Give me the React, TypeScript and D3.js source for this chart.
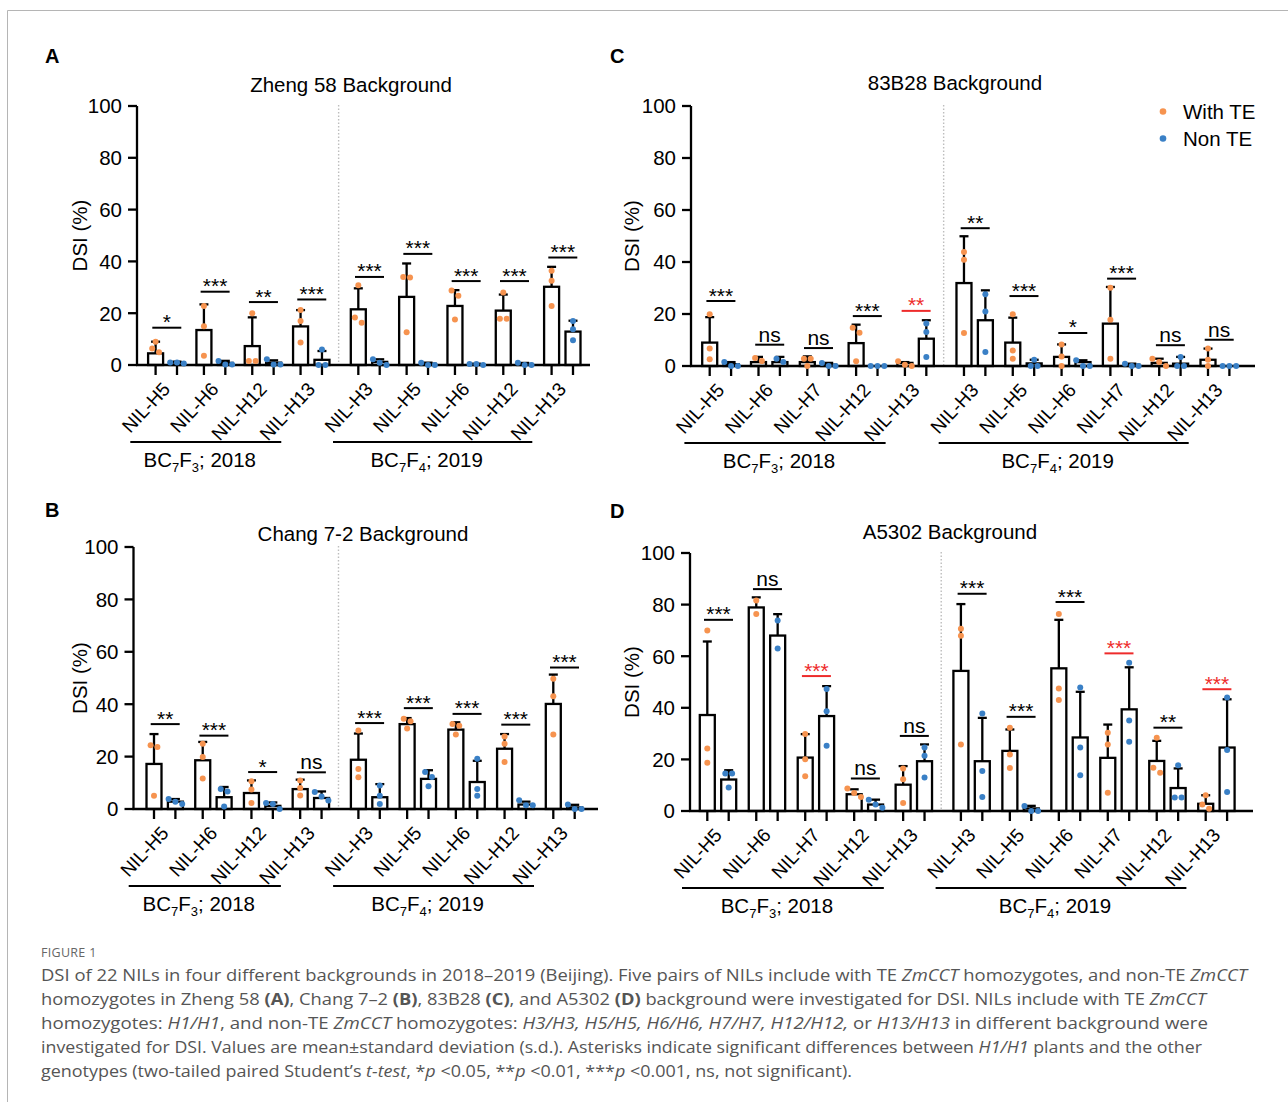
import * as d3 from "d3";
import React from "react";

// ---- categories ----
const labelsAB = ["NIL-H5", "NIL-H6", "NIL-H12", "NIL-H13", "NIL-H3", "NIL-H5", "NIL-H6", "NIL-H12", "NIL-H13"];
const labelsCD = ["NIL-H5", "NIL-H6", "NIL-H7", "NIL-H12", "NIL-H13", "NIL-H3", "NIL-H5", "NIL-H6", "NIL-H7", "NIL-H12", "NIL-H13"];
const groupSizesAB = [4, 5];
const groupSizesCD = [5, 6];
const groupNames = [["BC", "7", "F", "3", "; 2018"], ["BC", "7", "F", "4", "; 2019"]];
const yTicks = [0, 20, 40, 60, 80, 100];

// ---- panel A: Zheng 58 ----
const aWithMean = [4.5, 13.5, 7.3, 14.9, 21.5, 26.3, 22.8, 21.0, 30.2];
const aWithSd = [4.5, 9.9, 11.1, 6.3, 8.1, 12.9, 6.1, 6.2, 7.7];
const aNonMean = [1.0, 0.8, 0.9, 2.0, 1.2, 0.5, 0.3, 0.4, 12.9];
const aNonSd = [0.3, 0.8, 0.9, 3.4, 1.0, 0.4, 0.2, 0.4, 4.2];
const aWithPts = [[9.0, 6.4, 4.9], [22.8, 15.0, 3.6], [20.0, 1.5, 1.5], [21.2, 17.0, 8.7], [30.8, 18.3, 16.3], [34.0, 33.8, 12.6], [28.8, 26.7, 17.6], [28.0, 17.9, 17.9], [36.4, 32.5, 22.8]];
const aNonPts = [[0.6, 1.0, 1.0], [0.2, 1.5, 0.2], [0.2, 2.2, 0.2], [0.0, 6.0, 0.0], [0.0, 2.2, 0.9], [0.0, 0.9, 0.0], [0.0, 0.4, 0.4], [0.0, 0.9, 0.0], [17.0, 13.8, 9.6]];
const aSigY = [14.4, 28.3, 24.3, 25.3, 34.0, 42.9, 32.4, 32.4, 41.5];
const aSig = ["*", "***", "**", "***", "***", "***", "***", "***", "***"];
const aSigRed: number[] = [];

// ---- panel B: Chang 7-2 ----
const bWithMean = [17.2, 18.6, 6.1, 7.6, 18.8, 32.4, 30.3, 23.0, 40.1];
const bWithSd = [11.4, 7.0, 4.8, 3.6, 10.0, 2.3, 2.8, 5.6, 11.2];
const bNonMean = [2.8, 4.5, 1.2, 4.2, 4.5, 11.5, 10.3, 1.7, 0.6];
const bNonSd = [1.0, 3.9, 1.3, 2.5, 5.0, 3.3, 8.1, 1.1, 1.0];
const bWithPts = [[24.3, 23.7, 5.1], [24.9, 19.8, 11.6], [10.6, 7.4, 2.3], [10.9, 8.0, 5.2], [30.0, 15.3, 12.1], [34.4, 33.5, 30.7], [32.4, 31.8, 28.4], [27.7, 24.9, 17.9], [49.7, 43.0, 28.4]];
const bNonPts = [[1.9, 3.8, 2.8], [7.6, 6.7, 1.0], [2.3, 0.0, 1.9], [3.2, 6.5, 4.8], [9.0, 5.1, 1.9], [14.1, 12.2, 8.7], [19.2, 7.6, 5.1], [1.4, 3.3, 1.4], [0.0, 1.7, 0.0]];
const bSigY = [32.4, 28.0, 14.1, 14.0, 32.8, 38.5, 36.3, 32.2, 54.0];
const bSig = ["**", "***", "*", "ns", "***", "***", "***", "***", "***"];
const bSigRed: number[] = [];

// ---- panel C: 83B28 ----
const cWithMean = [9.0, 1.5, 1.5, 8.8, 1.2, 31.9, 9.0, 3.5, 16.3, 1.2, 2.4];
const cWithSd = [9.8, 2.0, 2.2, 7.1, 0.3, 18.0, 9.6, 4.8, 14.1, 1.6, 4.3];
const cNonMean = [0.7, 1.5, 0.5, 0.0, 10.5, 17.6, 1.0, 1.5, 0.5, 0.9, 0.0];
const cNonSd = [0.8, 2.0, 0.7, 0.0, 7.1, 11.5, 1.4, 0.7, 0.4, 2.6, 0.0];
const cWithPts = [[19.9, 6.7, 2.6], [1.9, 3.1], [2.8, 2.8, 0.0], [14.7, 12.8, 1.8], [0.0, 1.8, 0.5], [43.8, 40.9, 12.7], [19.9, 6.0, 2.8], [8.3, 3.7, 0.0], [30.1, 17.8, 2.8], [2.8, 1.5, 0.0], [6.7, 2.4, 0.0]];
const cNonPts = [[0.0, 1.5, 0.0], [1.5, 2.8], [0.0, 1.2, 0.0], [0.0, 0.0, 0.0], [16.3, 13.1, 3.5], [27.6, 21.0, 5.4], [0.0, 2.4, 0.0], [0.0, 2.2, 0.0], [0.0, 0.9, 0.0], [0.0, 3.5, 0.0], [0.0, 0.0, 0.0]];
const cSigY = [25.0, 8.2, 6.9, 19.2, 21.2, 53.0, 26.9, 12.7, 33.6, 8.0, 10.1];
const cSig = ["***", "ns", "ns", "***", "**", "**", "***", "*", "***", "ns", "ns"];
const cSigRed = [4];

// ---- panel D: A5302 ----
const dWithMean = [37.2, 78.9, 20.7, 6.5, 10.2, 54.3, 23.3, 55.3, 20.6, 19.4, 2.8];
const dWithSd = [28.5, 3.9, 9.1, 1.9, 7.2, 25.9, 8.3, 18.8, 12.9, 7.8, 3.3];
const dNonMean = [12.2, 68.0, 36.8, 2.5, 19.3, 19.3, 1.0, 28.5, 39.4, 8.9, 24.6];
const dNonSd = [3.6, 8.3, 11.6, 1.9, 6.5, 16.8, 1.0, 17.7, 16.3, 7.6, 18.7];
const dWithPts = [[70.0, 24.2, 18.7], [81.6, 76.4], [29.8, 20.1, 13.5], [8.7, 7.0, 5.4], [16.5, 12.3, 3.1], [70.6, 67.9, 25.8], [32.3, 21.9, 16.7], [76.4, 47.5, 43.0], [30.3, 25.8, 7.1], [28.4, 16.8, 14.8], [6.1, 0.9, 2.5]];
const dNonPts = [[14.5, 14.5, 9.1], [73.8, 63.0], [47.3, 38.7, 25.3], [4.4, 2.5, 1.3], [24.6, 21.4, 13.0], [37.8, 15.5, 5.4], [0.0, 1.9, 0.0], [47.9, 24.6, 13.9], [57.5, 35.1, 26.8], [17.7, 5.2, 5.2], [44.0, 23.6, 7.4]];
const dSigY = [74.1, 86.0, 52.3, 12.6, 29.1, 84.2, 36.5, 81.0, 61.1, 32.3, 47.2];
const dSig = ["***", "ns", "***", "ns", "ns", "***", "***", "***", "***", "**", "***"];
const dSigRed = [2, 8, 10];

// ---- caption ----
const captionHead = "FIGURE 1";
const captionLines: [string, string][][] = [
    [["DSI of 22 NILs in four different backgrounds in 2018–2019 (Beijing). Five pairs of NILs include with TE ", "n"], ["ZmCCT", "i"], [" homozygotes, and non-TE ", "n"], ["ZmCCT", "i"]],
    [["homozygotes in Zheng 58 ", "n"], ["(A)", "b"], [", Chang 7–2 ", "n"], ["(B)", "b"], [", 83B28 ", "n"], ["(C)", "b"], [", and A5302 ", "n"], ["(D)", "b"], [" background were investigated for DSI. NILs include with TE ", "n"], ["ZmCCT", "i"]],
    [["homozygotes: ", "n"], ["H1/H1", "i"], [", and non-TE ", "n"], ["ZmCCT", "i"], [" homozygotes: ", "n"], ["H3/H3, H5/H5, H6/H6, H7/H7, H12/H12,", "i"], [" or ", "n"], ["H13/H13", "i"], [" in different background were", "n"]],
    [["investigated for DSI. Values are mean±standard deviation (s.d.). Asterisks indicate significant differences between ", "n"], ["H1/H1", "i"], [" plants and the other", "n"]],
    [["genotypes (two-tailed paired Student’s ", "n"], ["t-test", "i"], [", *", "n"], ["p", "i"], [" <0.05, **", "n"], ["p", "i"], [" <0.01, ***", "n"], ["p", "i"], [" <0.001, ns, not significant).", "n"]],
];
const captionWidths = [1206, 1165, 1167, 1161, 811];

const ORANGE = "#F6934F";
const BLUE = "#3A80C6";
const RED = "#EE2B2B";
const FONT = "'Liberation Sans', Arial, Helvetica, sans-serif";

const panels = [
    {letter: "A", title: "Zheng 58 Background", titleX: 351, titleY: 92, labels: labelsAB, groups: groupSizesAB,
        axisX: 137, yTop: 106, yBottom: 365, xEnd: 590, first: 166.3, last: 562.3, gap: 0.195,
        withMean: aWithMean, withSd: aWithSd, nonMean: aNonMean, nonSd: aNonSd, withPts: aWithPts, nonPts: aNonPts,
        sigY: aSigY, sig: aSig, sigRed: aSigRed, letterX: 45, letterY: 63, ylabX: 87, legend: false},
    {letter: "B", title: "Chang 7-2 Background", titleX: 363, titleY: 541, labels: labelsAB, groups: groupSizesAB,
        axisX: 133.5, yTop: 547, yBottom: 809, xEnd: 598, first: 164.7, last: 564, gap: 0.195,
        withMean: bWithMean, withSd: bWithSd, nonMean: bNonMean, nonSd: bNonSd, withPts: bWithPts, nonPts: bNonPts,
        sigY: bSigY, sig: bSig, sigRed: bSigRed, letterX: 45, letterY: 517, ylabX: 87, legend: false},
    {letter: "C", title: "83B28 Background", titleX: 955, titleY: 90, labels: labelsCD, groups: groupSizesCD,
        axisX: 691, yTop: 106, yBottom: 366, xEnd: 1255, first: 720.4, last: 1218.7, gap: 0.21,
        withMean: cWithMean, withSd: cWithSd, nonMean: cNonMean, nonSd: cNonSd, withPts: cWithPts, nonPts: cNonPts,
        sigY: cSigY, sig: cSig, sigRed: cSigRed, letterX: 610, letterY: 63, ylabX: 639, legend: true},
    {letter: "D", title: "A5302 Background", titleX: 950, titleY: 539, labels: labelsCD, groups: groupSizesCD,
        axisX: 690, yTop: 553, yBottom: 811, xEnd: 1253, first: 718, last: 1216.4, gap: 0.18,
        withMean: dWithMean, withSd: dWithSd, nonMean: dNonMean, nonSd: dNonSd, withPts: dWithPts, nonPts: dNonPts,
        sigY: dSigY, sig: dSig, sigRed: dSigRed, letterX: 610, letterY: 518, ylabX: 639, legend: false},
];

const R = 3;
const SW = 2.3;

// spread overlapping dots sideways, a bit like GraphPad's scatter
function spread(vals: number[], y: (v: number) => number) {
    const order = vals.map((v, i) => ({i, py: y(v)})).sort((a, b) => a.py - b.py);
    const clusters: {i: number, py: number}[][] = [];
    order.forEach(p => {
        const last = clusters[clusters.length - 1];
        if (last && p.py - last[last.length - 1].py < 2 * R) last.push(p);
        else clusters.push([p]);
    });
    const off = new Array(vals.length).fill(0);
    clusters.forEach(c => c.forEach((p, k) => {
        off[p.i] = (k - (c.length - 1) / 2) * (2 * R + 0.8);
    }));
    return off;
}

const Panel = ({p}: {p: typeof panels[0]}) => {
    const y = d3.scaleLinear().domain([0, 100]).range([p.yBottom, p.yTop]);
    const n = p.labels.length;
    const n0 = p.groups[0];
    const slot = (i: number) => i + (i >= n0 ? p.gap : 0);
    const x = d3.scaleLinear().domain([0, slot(n - 1)]).range([p.first, p.last]);
    const sub = d3.scalePoint<string>().domain(["with", "non"]).range([-10.7, 10.7]);
    const divX = (x(slot(n0 - 1)) + x(slot(n0))) / 2 - 1.5;

    const series = [
        {key: "with", mean: p.withMean, sd: p.withSd, pts: p.withPts, color: ORANGE},
        {key: "non", mean: p.nonMean, sd: p.nonSd, pts: p.nonPts, color: BLUE},
    ];

    const groupRanges = [[0, n0 - 1], [n0, n - 1]];

    return (
        <g fontFamily={FONT}>
            <text x={p.letterX} y={p.letterY} fontSize={20} fontWeight="bold">{p.letter}</text>
            <text x={p.titleX} y={p.titleY} fontSize={20.5} textAnchor="middle">{p.title}</text>
            <text transform={`translate(${p.ylabX},${(p.yTop + p.yBottom) / 2}) rotate(-90)`} fontSize={20.5}
                  textAnchor="middle">DSI (%)</text>

            {/* divider */}
            <line x1={divX} x2={divX} y1={p.yTop - 1} y2={p.yBottom} stroke="#bdbdbd" strokeWidth={1.4}
                  strokeDasharray="1.5,2"/>

            {/* y axis */}
            <line x1={p.axisX} x2={p.axisX} y1={p.yTop} y2={p.yBottom + 1} stroke="#000" strokeWidth={SW}/>
            {yTicks.map(t => (
                <g key={t}>
                    <line x1={p.axisX - 9} x2={p.axisX} y1={y(t)} y2={y(t)} stroke="#000" strokeWidth={SW}/>
                    <text x={p.axisX - 15} y={y(t)} dy="0.36em" fontSize={20.5} textAnchor="end">{t}</text>
                </g>
            ))}

            {/* bars */}
            {series.map(s => p.labels.map((_, i) => {
                const cx = x(slot(i)) + (sub(s.key) as number);
                const top = y(s.mean[i]);
                const et = y(s.mean[i] + s.sd[i]);
                return (
                    <g key={s.key + i}>
                        <rect x={cx - 7.5} y={top} width={15} height={p.yBottom - top} fill="#fff" stroke="#000"
                              strokeWidth={SW}/>
                        {s.sd[i] > 0 && <>
                            <line x1={cx} x2={cx} y1={top} y2={et} stroke="#000" strokeWidth={SW}/>
                            <line x1={cx - 4.5} x2={cx + 4.5} y1={et} y2={et} stroke="#000" strokeWidth={SW}/>
                        </>}
                    </g>
                );
            }))}

            {/* x axis */}
            <line x1={p.axisX - 1} x2={p.xEnd} y1={p.yBottom} y2={p.yBottom} stroke="#000" strokeWidth={SW}/>
            {series.map(s => p.labels.map((_, i) => {
                const cx = x(slot(i)) + (sub(s.key) as number);
                return <line key={"t" + s.key + i} x1={cx} x2={cx} y1={p.yBottom} y2={p.yBottom + 10}
                             stroke="#000" strokeWidth={SW}/>;
            }))}

            {/* dots */}
            {series.map(s => p.labels.map((_, i) => {
                const cx = x(slot(i)) + (sub(s.key) as number);
                const off = spread(s.pts[i], y);
                return s.pts[i].map((v, k) => (
                    <circle key={"d" + s.key + i + "_" + k} cx={cx + off[k]} cy={y(v)} r={R} fill={s.color}/>
                ));
            }))}

            {/* significance */}
            {p.sig.map((lab, i) => {
                const cx = x(slot(i));
                const ly = y(p.sigY[i]);
                const col = p.sigRed.includes(i) ? RED : "#000";
                return (
                    <g key={"s" + i}>
                        <line x1={cx - 14} x2={cx + 15} y1={ly} y2={ly} stroke={col} strokeWidth={2}/>
                        {lab === "ns"
                            ? <text x={cx + 0.5} y={ly - 3} fontSize={21} textAnchor="middle" fill={col}>ns</text>
                            : <text x={cx + 0.5} y={ly + 1.5} fontSize={21} textAnchor="middle" fill={col}>{lab}</text>}
                    </g>
                );
            })}

            {/* category labels */}
            {p.labels.map((lab, i) => (
                <text key={"l" + i} transform={`translate(${x(slot(i)) + 5},${p.yBottom + 25}) rotate(-47)`}
                      fontSize={19} textAnchor="end">{lab}</text>
            ))}

            {/* group brackets */}
            {groupRanges.map(([a, b], g) => {
                const x1 = x(slot(a)) - 36;
                const x2 = x(slot(b)) - 30;
                const parts = groupNames[g];
                return (
                    <g key={"g" + g}>
                        <line x1={x1} x2={x2} y1={p.yBottom + 77} y2={p.yBottom + 77} stroke="#000" strokeWidth={2}/>
                        <text x={(x1 + x2) / 2 - 6} y={p.yBottom + 102} fontSize={20.5} textAnchor="middle">
                            {parts[0]}
                            <tspan fontSize={13} dy={5}>{parts[1]}</tspan>
                            <tspan dy={-5}>{parts[2]}</tspan>
                            <tspan fontSize={13} dy={5}>{parts[3]}</tspan>
                            <tspan dy={-5}>{parts[4]}</tspan>
                        </text>
                    </g>
                );
            })}

            {p.legend && (
                <g>
                    <circle cx={1163} cy={111.5} r={R + 0.3} fill={ORANGE}/>
                    <text x={1183} y={118.5} fontSize={20.5}>With TE</text>
                    <circle cx={1163} cy={138.5} r={R + 0.3} fill={BLUE}/>
                    <text x={1183} y={145.5} fontSize={20.5}>Non TE</text>
                </g>
            )}
        </g>
    );
};

const App = () => {
    return (
        <svg width={1288} height={1102} style={{position: "absolute", left: 0, top: 0, display: "block"}}>
            <rect width={1288} height={1102} fill="#fff"/>
            <line x1={7.5} x2={1288} y1={10.5} y2={10.5} stroke="#b5b5b5" strokeWidth={1}/>
            <line x1={7.5} x2={7.5} y1={10.5} y2={1102} stroke="#b5b5b5" strokeWidth={1}/>

            {panels.map(p => <Panel key={p.letter} p={p}/>)}

            <text x={41} y={957} fontFamily="'Open Sans', sans-serif" fontSize={12.5} fill="#666"
                  letterSpacing={0.3}>{captionHead}</text>
            {captionLines.map((line, li) => (
                <text key={li} x={41} y={981 + li * 24} fontFamily="'Open Sans', sans-serif" fontSize={16.5}
                      fill="#555" textLength={captionWidths[li]} lengthAdjust="spacingAndGlyphs">
                    {line.map(([t, st], k) => (
                        <tspan key={k} fontStyle={st === "i" ? "italic" : "normal"}
                               fontWeight={st === "b" ? "bold" : "normal"}>{t}</tspan>
                    ))}
                </text>
            ))}
        </svg>
    );
};

export default App;
